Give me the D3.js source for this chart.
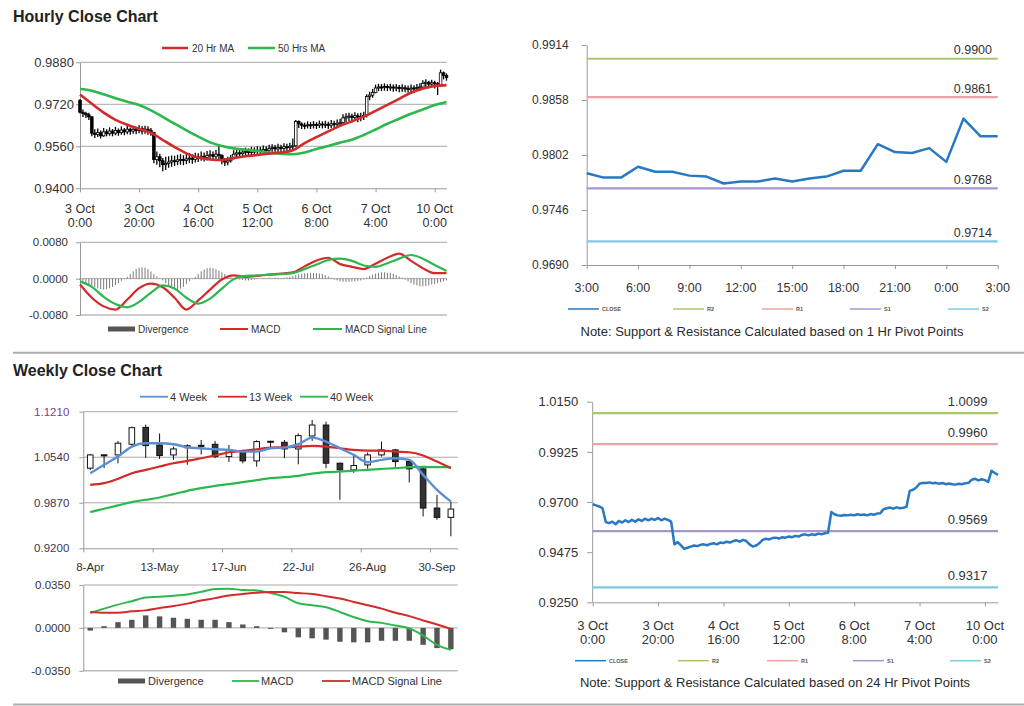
<!DOCTYPE html>
<html><head><meta charset="utf-8">
<script src="https://cdn.jsdelivr.net/npm/d3@7"></script>
<style>
body{margin:0;background:#fff;}
svg{display:block;}
</style></head><body>
<svg id="c" width="1024" height="706"></svg>
<script>
// ================= DATA =================
// Hourly candles (index = hour bar)
const hourlyFirstOpen = 0.9735;
const hourlyClose = [0.9690,0.9685,0.9680,0.9672,0.9610,
 0.9605,0.9612,0.9600,0.9615,0.9608,0.9618,0.9610,0.9620,0.9612,0.9622,
 0.9615,0.9625,0.9618,0.9625,0.9620,0.9628,0.9618,0.9625,0.9620,0.9612,
 0.9510,0.9520,0.9505,0.9490,0.9495,0.9500,0.9505,0.9502,0.9508,0.9510,
 0.9506,0.9512,0.9515,0.9510,0.9518,0.9516,0.9522,0.9518,0.9525,0.9528,
 0.9522,0.9530,0.9525,0.9510,0.9500,0.9505,0.9515,0.9530,0.9535,0.9532,
 0.9538,0.9540,0.9536,0.9542,0.9540,0.9545,0.9542,0.9548,0.9545,0.9552,
 0.9555,0.9550,0.9555,0.9552,0.9558,0.9555,0.9560,0.9562,0.9655,0.9645,
 0.9640,0.9638,0.9642,0.9640,0.9643,0.9640,0.9645,0.9642,0.9644,0.9640,
 0.9646,0.9643,0.9648,0.9650,0.9668,0.9672,0.9675,0.9670,0.9676,0.9672,
 0.9674,0.9678,0.9750,0.9755,0.9765,0.9782,0.9786,0.9785,0.9788,0.9784,
 0.9786,0.9782,0.9785,0.9780,0.9783,0.9780,0.9778,0.9782,0.9780,0.9784,
 0.9786,0.9800,0.9804,0.9797,0.9802,0.9798,0.9790,0.9840,0.9830,0.9822];
const hourlyHigh = [0.9740,0.9700,0.9692,0.9688,0.9675,
 0.9625,0.9628,0.9620,0.9630,0.9625,0.9632,0.9626,0.9634,0.9628,0.9636,
 0.9630,0.9638,0.9632,0.9637,0.9634,0.9640,0.9636,0.9638,0.9636,0.9630,
 0.9615,0.9540,0.9532,0.9515,0.9520,0.9522,0.9525,0.9524,0.9528,0.9530,
 0.9526,0.9530,0.9534,0.9530,0.9535,0.9534,0.9540,0.9536,0.9542,0.9545,
 0.9540,0.9546,0.9568,0.9530,0.9515,0.9520,0.9528,0.9545,0.9550,0.9548,
 0.9552,0.9555,0.9552,0.9558,0.9556,0.9560,0.9558,0.9563,0.9560,0.9566,
 0.9568,0.9565,0.9570,0.9566,0.9572,0.9570,0.9574,0.9590,0.9660,0.9658,
 0.9652,0.9650,0.9655,0.9652,0.9656,0.9652,0.9658,0.9655,0.9657,0.9654,
 0.9660,0.9657,0.9662,0.9665,0.9682,0.9686,0.9688,0.9684,0.9690,0.9686,
 0.9688,0.9692,0.9758,0.9768,0.9778,0.9795,0.9798,0.9797,0.9800,0.9796,
 0.9798,0.9795,0.9797,0.9794,0.9796,0.9793,0.9792,0.9795,0.9793,0.9797,
 0.9800,0.9812,0.9815,0.9810,0.9814,0.9810,0.9805,0.9852,0.9845,0.9838];
const hourlyLow = [0.9685,0.9672,0.9668,0.9660,0.9598,
 0.9592,0.9595,0.9590,0.9596,0.9598,0.9600,0.9598,0.9602,0.9600,0.9604,
 0.9602,0.9606,0.9604,0.9608,0.9606,0.9610,0.9605,0.9608,0.9604,0.9600,
 0.9495,0.9490,0.9480,0.9465,0.9470,0.9478,0.9482,0.9485,0.9488,0.9490,
 0.9488,0.9492,0.9496,0.9494,0.9498,0.9500,0.9505,0.9502,0.9506,0.9510,
 0.9506,0.9510,0.9508,0.9492,0.9485,0.9488,0.9498,0.9510,0.9518,0.9516,
 0.9520,0.9522,0.9520,0.9525,0.9524,0.9528,0.9526,0.9530,0.9530,0.9535,
 0.9538,0.9535,0.9538,0.9536,0.9540,0.9538,0.9542,0.9545,0.9558,0.9630,
 0.9626,0.9625,0.9628,0.9626,0.9628,0.9626,0.9630,0.9628,0.9630,0.9626,
 0.9630,0.9630,0.9634,0.9636,0.9645,0.9652,0.9656,0.9650,0.9656,0.9652,
 0.9655,0.9660,0.9670,0.9735,0.9745,0.9762,0.9770,0.9770,0.9772,0.9770,
 0.9772,0.9768,0.9770,0.9766,0.9768,0.9766,0.9764,0.9766,0.9766,0.9770,
 0.9772,0.9780,0.9785,0.9780,0.9784,0.9780,0.9755,0.9788,0.9815,0.9810];
// Hourly moving averages, MACD & signal sampled every 4 bars (bar 0,4,...,124)
const hourlySampleStep = 4;
const hourlyMA20 = [0.9757,0.9722,0.9688,0.9661,0.9642,0.9627,0.9612,0.9584,0.9557,0.9533,0.9517,0.9510,0.9508,0.9515,0.9522,0.9527,
 0.9532,0.9536,0.9545,0.9572,0.9595,0.9617,0.9638,0.9655,0.9673,0.9695,0.9718,0.9741,0.9764,0.9780,0.9790,0.9793];
const hourlyMA50 = [0.9778,0.9772,0.9758,0.9743,0.9730,0.9717,0.9697,0.9672,0.9646,0.9621,0.9597,0.9575,0.9561,0.9552,0.9547,0.9542,
 0.9536,0.9532,0.9530,0.9536,0.9550,0.9561,0.9574,0.9585,0.9603,0.9624,0.9646,0.9665,0.9684,0.9700,0.9717,0.9729];
const hourlyMACD = [-0.0013,-0.0042,-0.0061,-0.0068,-0.0046,-0.0021,-0.0011,-0.0019,-0.0042,-0.0068,-0.0048,-0.0024,-0.0002,0.0007,0.0004,0.0006,
 0.0009,0.0011,0.0014,0.0027,0.0040,0.0046,0.0032,0.0026,0.0021,0.0033,0.0046,0.0055,0.0039,0.0023,0.0012,0.0012];
const hourlySignal = [-0.0006,-0.0018,-0.0040,-0.0056,-0.0063,-0.0051,-0.0031,-0.0015,-0.0022,-0.0042,-0.0055,-0.0044,-0.0022,-0.0001,0.0006,0.0007,
 0.0009,0.0010,0.0012,0.0021,0.0031,0.0041,0.0044,0.0039,0.0029,0.0026,0.0034,0.0044,0.0052,0.0044,0.0030,0.0017];
// Hourly divergence, one per bar
const hourlyDivergence = [-0.0003,-0.0006,-0.0010,-0.0013,-0.0016,-0.0019,-0.0021,-0.0023,-0.0024,-0.0023,
 -0.0021,-0.0018,-0.0014,-0.0010,-0.0005,-0.0001,0.0004,0.0010,0.0016,0.0021,
 0.0024,0.0025,0.0024,0.0021,0.0016,0.0010,0.0005,0.0001,-0.0004,-0.0010,
 -0.0016,-0.0020,-0.0023,-0.0024,-0.0022,-0.0018,-0.0012,-0.0006,-0.0001,0.0004,
 0.0010,0.0016,0.0020,0.0023,0.0024,0.0023,0.0021,0.0018,0.0014,0.0010,
 0.0006,0.0003,0.0001,-0.0001,-0.0002,-0.0003,-0.0004,-0.0004,-0.0003,-0.0002,
 -0.0001,0.0000,0.0001,0.0001,0.0002,0.0001,0.0002,0.0002,0.0001,0.0002,
 0.0003,0.0004,0.0006,0.0008,0.0010,0.0011,0.0012,0.0012,0.0013,0.0012,
 0.0012,0.0011,0.0010,0.0008,0.0005,0.0002,-0.0002,-0.0004,-0.0006,-0.0007,
 -0.0007,-0.0007,-0.0006,-0.0006,-0.0005,-0.0004,-0.0002,0.0002,0.0006,0.0009,
 0.0011,0.0013,0.0014,0.0014,0.0013,0.0013,0.0011,0.0008,0.0005,0.0002,
 -0.0002,-0.0006,-0.0010,-0.0013,-0.0015,-0.0017,-0.0017,-0.0016,-0.0015,-0.0013,
 -0.0012,-0.0010,-0.0008,-0.0006,-0.0004];
const hourlyTickStep = 20;
const hourlyTickLabels = [["3 Oct","0:00"],["3 Oct","20:00"],["4 Oct","16:00"],["5 Oct","12:00"],["6 Oct","8:00"],["7 Oct","4:00"],["10 Oct","0:00"]];
const hourlyYTicks = [0.9400,0.9560,0.9720,0.9880];
const hourlyMacdTicks = [-0.0080,0.0000,0.0080];

// 1 Hr pivot chart
const pivotHours = ["3:00","4:00","5:00","6:00","7:00","8:00","9:00","10:00","11:00","12:00","13:00","14:00","15:00","16:00","17:00","18:00","19:00","20:00","21:00","22:00","23:00","0:00","1:00","2:00","3:00"];
const pivotClose = [0.97835,0.9779,0.9779,0.9790,0.9785,0.9785,0.9781,0.9780,0.9773,0.9775,0.9775,0.9778,0.9775,0.9778,0.9780,0.9786,0.9786,0.9813,0.9805,0.9804,0.9809,0.9795,0.9839,0.9821,0.9821];
const pivotLevels1h = [["R2",0.9900],["R1",0.9861],["S1",0.9768],["S2",0.9714]];
const pivotYTicks1h = [0.9690,0.9746,0.9802,0.9858,0.9914];

// 24 Hr pivot chart (uses hourly close)
const pivotLevels24h = [["R2",1.0099],["R1",0.9960],["S1",0.9569],["S2",0.9317]];
const pivotYTicks24h = [0.9250,0.9475,0.9700,0.9925,1.0150];

// Weekly
const weeks = ["8-Apr","15-Apr","22-Apr","29-Apr","6-May","13-May","20-May","27-May","3-Jun","10-Jun","17-Jun","24-Jun","1-Jul","8-Jul","15-Jul","22-Jul","29-Jul","5-Aug","12-Aug","19-Aug","26-Aug","2-Sep","9-Sep","16-Sep","23-Sep","30-Sep","7-Oct"];
const weekOpen  = [1.0379,1.0575,1.0574,1.0731,1.0980,1.0720,1.0574,1.0680,1.0715,1.0730,1.0550,1.0623,1.0486,1.0775,1.0760,1.0662,1.0853,1.1014,1.0452,1.0354,1.0427,1.0574,1.0648,1.0476,1.0369,0.9792,0.9655];
const weekHigh  = [1.0590,1.0580,1.0780,1.0990,1.1020,1.0890,1.0696,1.0730,1.0794,1.0780,1.0720,1.0650,1.0790,1.0781,1.0794,1.0890,1.1088,1.1063,1.0460,1.0574,1.0610,1.0770,1.0662,1.0500,1.0380,0.9987,0.9889];
const weekLow   = [1.0350,1.0380,1.0450,1.0700,1.0530,1.0515,1.0500,1.0430,1.0580,1.0525,1.0470,1.0450,1.0400,1.0670,1.0525,1.0436,1.0780,1.0379,0.9914,1.0310,1.0370,1.0550,1.0400,1.0168,0.9670,0.9620,0.9377];
const weekClose = [1.0574,1.0565,1.0746,1.0975,1.0711,1.0565,1.0662,1.0710,1.0710,1.0550,1.0648,1.0486,1.0770,1.0768,1.0662,1.0858,1.1014,1.0452,1.0354,1.0418,1.0574,1.0648,1.0476,1.0369,0.9792,0.9655,0.9777];
const week4  = [1.0305,1.0428,1.0550,1.0696,1.0745,1.0745,1.0731,1.0687,1.0672,1.0657,1.0648,1.0623,1.0623,1.0672,1.0682,1.0731,1.0829,1.0770,1.0672,1.0574,1.0467,1.0501,1.0525,1.0501,1.0281,1.0061,0.9890];
const week13 = [1.0134,1.0158,1.0222,1.0305,1.0354,1.0403,1.0452,1.0486,1.0525,1.0565,1.0613,1.0633,1.0657,1.0682,1.0687,1.0696,1.0706,1.0696,1.0672,1.0648,1.0638,1.0638,1.0623,1.0613,1.0565,1.0476,1.0379];
const week40 = [0.9733,0.9782,0.9831,0.9880,0.9914,0.9948,0.9997,1.0046,1.0085,1.0119,1.0144,1.0173,1.0202,1.0232,1.0246,1.0266,1.0300,1.0320,1.0330,1.0344,1.0354,1.0369,1.0379,1.0393,1.0398,1.0393,1.0393];
const weekDivergence = [-0.0022,0.0014,0.0047,0.0066,0.0102,0.0094,0.0083,0.0074,0.0066,0.0066,0.0047,0.0028,0.0014,-0.0008,-0.0036,-0.0077,-0.0085,-0.0096,-0.0113,-0.0118,-0.0118,-0.0105,-0.0105,-0.0105,-0.0138,-0.0165,-0.0174];
const weekMACD   = [0.0121,0.0157,0.0190,0.0218,0.0248,0.0254,0.0262,0.0273,0.0295,0.0317,0.0320,0.0309,0.0306,0.0284,0.0254,0.0201,0.0185,0.0168,0.0130,0.0088,0.0055,0.0041,0.0019,-0.0003,-0.0063,-0.0138,-0.0179];
const weekSignal = [0.0130,0.0124,0.0124,0.0135,0.0143,0.0163,0.0179,0.0198,0.0223,0.0243,0.0265,0.0276,0.0287,0.0292,0.0292,0.0284,0.0276,0.0259,0.0240,0.0212,0.0185,0.0157,0.0124,0.0096,0.0061,0.0028,-0.0008];
const weekTickStep = 5;
const weekYTicks = [0.9200,0.9870,1.0540,1.1210];
const weekMacdTicks = [-0.0350,0.0000,0.0350];

// ================= DRAW =================
const FONT = '"Liberation Sans", Arial, Helvetica, sans-serif';
const C = {text:'#333', axis:'#9a9a9a', grid:'#a8a8a8', red:'#d42a2a', green:'#2db84f', blue:'#2878c3', wblue:'#5b8fd3',
  R2:'#a9c86a', R1:'#eba4a4', S1:'#a698cf', S2:'#7ccbe4', div:'#555'};
const svg = d3.select('#c').attr('font-family', FONT);
const fmt4 = d => (d < -1e-9 ? '-' : '') + Math.abs(d).toFixed(4);

function leftAxis(x, scale, ticks, size, pad, fs, color){
  const g = svg.append('g').attr('transform', `translate(${x},0)`)
    .call(d3.axisLeft(scale).tickValues(ticks).tickFormat(fmt4).tickSize(size).tickSizeOuter(0).tickPadding(pad));
  g.attr('font-family', FONT).attr('font-size', fs);
  g.select('.domain').attr('stroke', C.axis);
  g.selectAll('.tick line').attr('stroke', C.axis);
  g.selectAll('.tick text').attr('fill', color || C.text);
  return g;
}
function bottomAxis(y, scale, ticks, size){
  const g = svg.append('g').attr('transform', `translate(0,${y})`)
    .call(d3.axisBottom(scale).tickValues(ticks).tickFormat('').tickSize(size).tickSizeOuter(0));
  g.select('.domain').attr('stroke', C.axis);
  g.selectAll('.tick line').attr('stroke', C.axis);
  return g;
}
function grid(scale, vals, x0, x1){
  svg.append('g').selectAll('line').data(vals).join('line')
    .attr('x1', x0).attr('x2', x1).attr('y1', d => scale(d)).attr('y2', d => scale(d))
    .attr('stroke', C.grid).attr('stroke-width', 1);
}
function text(x, y, s, fs, opts = {}){
  return svg.append('text').attr('x', x).attr('y', y).attr('font-size', fs)
    .attr('fill', opts.fill || C.text).attr('text-anchor', opts.anchor || 'start')
    .attr('font-weight', opts.weight || 'normal').text(s);
}
function legendLine(x0, x1, y, color, w){
  svg.append('line').attr('x1', x0).attr('x2', x1).attr('y1', y).attr('y2', y).attr('stroke', color).attr('stroke-width', w);
}
function twoLineLabels(data, xf, y, fs, gap){
  svg.append('g').selectAll('text').data(data).join('text')
    .attr('font-size', fs).attr('fill', C.text).attr('text-anchor', 'middle')
    .each(function(d, i){
      d3.select(this).selectAll('tspan').data(d).join('tspan')
        .attr('x', xf(i)).attr('y', (t, j) => y + j * gap).text(t => t);
    });
}

// Titles & separators
text(13, 22, 'Hourly Close Chart', 16, {weight:'bold', fill:'#222'});
text(13, 376, 'Weekly Close Chart', 16, {weight:'bold', fill:'#222'});
[352.7, 704.5].forEach(y => svg.append('line').attr('x1', 13).attr('x2', 1024).attr('y1', y).attr('y2', y).attr('stroke', '#aeaeae').attr('stroke-width', 2));

// ---------- Hourly close (top-left) ----------
const nH = hourlyClose.length;
const hIdx = d3.range(nH);
const xH = d3.scaleLinear().domain([0, nH - 1]).range([80, 446.5]);
const yH = d3.scaleLinear().domain([0.9400, 0.9880]).range([188.3, 62.3]);
grid(yH, hourlyYTicks.slice(1), 80, 447);
const hTickIdx = hourlyTickLabels.map((d, i) => i * hourlyTickStep);
bottomAxis(188.3, xH, hTickIdx, 4);
leftAxis(80, yH, hourlyYTicks, 4, 2, 13);
twoLineLabels(hourlyTickLabels, i => xH(i * hourlyTickStep), 212.5, 12.5, 14);

const hOpen = hourlyClose.map((c, i) => i ? hourlyClose[i - 1] : hourlyFirstOpen);
const gHC = svg.append('g');
gHC.selectAll('line').data(hIdx).join('line')
  .attr('x1', i => xH(i)).attr('x2', i => xH(i))
  .attr('y1', i => yH(hourlyHigh[i])).attr('y2', i => yH(hourlyLow[i]))
  .attr('stroke', '#000').attr('stroke-width', 1.3);
gHC.selectAll('rect').data(hIdx).join('rect')
  .attr('x', i => xH(i) - 1.3).attr('width', 2.6)
  .attr('y', i => yH(Math.max(hOpen[i], hourlyClose[i])))
  .attr('height', i => Math.max(1, Math.abs(yH(hOpen[i]) - yH(hourlyClose[i]))))
  .attr('fill', i => hourlyClose[i] >= hOpen[i] ? '#fff' : '#000')
  .attr('stroke', '#000').attr('stroke-width', 0.8);

const sIdx = hourlyMA20.map((d, i) => Math.min(i * hourlySampleStep, nH - 1));
const lineH = d3.line().x((d, i) => xH(sIdx[i])).y(d => yH(d)).curve(d3.curveMonotoneX);
svg.append('path').attr('d', lineH(hourlyMA50)).attr('fill', 'none').attr('stroke', C.green).attr('stroke-width', 2.6);
svg.append('path').attr('d', lineH(hourlyMA20)).attr('fill', 'none').attr('stroke', C.red).attr('stroke-width', 2.6);
legendLine(162, 188, 48, C.red, 2.5); text(192, 51.5, '20 Hr MA', 10);
legendLine(248, 275, 48, C.green, 2.5); text(278, 51.5, '50 Hrs MA', 10);

// ---------- Hourly MACD ----------
const yHM = d3.scaleLinear().domain([-0.0080, 0.0080]).range([315, 242.3]);
grid(yHM, [0.0000, 0.0080], 80, 447);
svg.append('line').attr('x1', 80).attr('x2', 447).attr('y1', 315).attr('y2', 315).attr('stroke', C.axis);
leftAxis(80, yHM, hourlyMacdTicks, 4, 8, 11.5);
svg.append('g').selectAll('line').data(hIdx).join('line')
  .attr('x1', i => xH(i)).attr('x2', i => xH(i))
  .attr('y1', yHM(0)).attr('y2', i => yHM(hourlyDivergence[i]))
  .attr('stroke', '#7a7a7a').attr('stroke-width', 1);
const lineHM = d3.line().x((d, i) => xH(sIdx[i])).y(d => yHM(d)).curve(d3.curveMonotoneX);
svg.append('path').attr('d', lineHM(hourlyMACD)).attr('fill', 'none').attr('stroke', C.red).attr('stroke-width', 2.2);
svg.append('path').attr('d', lineHM(hourlySignal)).attr('fill', 'none').attr('stroke', C.green).attr('stroke-width', 2.2);
legendLine(108, 135, 329, '#555', 5); text(138, 332.5, 'Divergence', 10);
legendLine(220, 248, 329, C.red, 2); text(251, 332.5, 'MACD', 10);
legendLine(313, 342, 329, C.green, 2); text(345, 332.5, 'MACD Signal Line', 10);

// ---------- Pivot chart helper ----------
function pivotChart(o){
  leftAxis(o.x0, o.y, o.yTicks, 5, o.pad, o.fsY);
  bottomAxis(o.yBase, o.x, o.xTicks, o.tick);
  svg.append('g').selectAll('line').data(o.levels).join('line')
    .attr('x1', o.x0).attr('x2', o.x1).attr('y1', d => o.y(d[1])).attr('y2', d => o.y(d[1]))
    .attr('stroke', d => C[d[0]]).attr('stroke-width', 2.2);
  svg.append('path').attr('d', d3.line().x((d, i) => o.x(i)).y(d => o.y(d))(o.close))
    .attr('fill', 'none').attr('stroke', C.blue).attr('stroke-width', 2.5).attr('stroke-linejoin', 'round');
  svg.append('g').selectAll('text').data(o.levels).join('text')
    .attr('x', o.labelX).attr('y', d => o.y(d[1]) - o.labelOff).attr('text-anchor', 'end')
    .attr('font-size', o.fsL).attr('fill', C.text).text(d => d[1].toFixed(4));
  // legend
  const items = [['CLOSE', C.blue]].concat(o.levels.map(d => [d[0], C[d[0]]]));
  items.forEach((d, i) => {
    const lx = o.legX[i];
    legendLine(lx, lx + 31, o.legY, d[1], 1.5);
    text(lx + 34, o.legY + 2, d[0], 5.5, {fill:'#555', weight:'bold'});
  });
  text(o.noteX, o.noteY, o.note, 13, {anchor:'middle', fill:'#2a2a2a'});
}

// ---------- 1 Hr pivot (top-right) ----------
const xP = d3.scaleLinear().domain([0, pivotHours.length - 1]).range([586.7, 997.7]);
const yP = d3.scaleLinear().domain([0.9690, 0.9914]).range([265, 45]);
const pTicks = pivotHours.map((d, i) => i).filter(i => i % 3 === 0);
pivotChart({x: xP, y: yP, x0: 586.7, x1: 997.7, yBase: 265, yTicks: pivotYTicks1h, xTicks: pTicks, tick: 4,
  pad: 13, fsY: 12, levels: pivotLevels1h, close: pivotClose, labelX: 992, labelOff: 4.3, fsL: 12.5,
  legX: [568, 673, 762, 850, 948], legY: 309, noteX: 772, noteY: 336,
  note: 'Note: Support & Resistance Calculated based on 1 Hr Pivot Points'});
svg.append('g').selectAll('text').data(pTicks).join('text')
  .attr('x', i => xP(i)).attr('y', 291.5).attr('text-anchor', 'middle').attr('font-size', 12.5).attr('fill', C.text)
  .text(i => pivotHours[i]);

// ---------- 24 Hr pivot (bottom-right) ----------
const xD = d3.scaleLinear().domain([0, nH - 1]).range([592.7, 998]);
const yD = d3.scaleLinear().domain([0.9250, 1.0150]).range([602.3, 401.7]);
pivotChart({x: xD, y: yD, x0: 592.2, x1: 998, yBase: 602.3, yTicks: pivotYTicks24h, xTicks: hTickIdx, tick: 4,
  pad: 9, fsY: 13, levels: pivotLevels24h, close: hourlyClose, labelX: 987.5, labelOff: 7.2, fsL: 13,
  legX: [575, 678, 767, 853, 950], legY: 660.7, noteX: 775, noteY: 687,
  note: 'Note: Support & Resistance Calculated based on 24 Hr Pivot Points'});
twoLineLabels(hourlyTickLabels, i => xD(i * hourlyTickStep), 629.8, 13, 14.4);

// ---------- Weekly (bottom-left) ----------
const xW = d3.scaleBand().domain(weeks).range([83.3, 457.8]);
const xWl = d3.scaleLinear().domain([0, weeks.length]).range([83.3, 457.8]);
const cW = i => xW(weeks[i]) + xW.bandwidth() / 2;
const yW = d3.scaleLinear().domain([0.9200, 1.1210]).range([548.3, 411.7]);
grid(yW, weekYTicks.slice(1), 83.3, 457.8);
const wTicks = weeks.map((d, i) => i).filter(i => i % weekTickStep === 0);
bottomAxis(548.3, xWl, wTicks, 4);
const gWy = leftAxis(83.3, yW, weekYTicks, 4, 10, 11.5, '#3d3550');
gWy.selectAll('.tick text').filter(d => d === 1.1210).attr('fill', '#7a3d98');
svg.append('g').selectAll('text').data(wTicks).join('text')
  .attr('x', i => cW(i)).attr('y', 570.8).attr('text-anchor', 'middle').attr('font-size', 11.5).attr('fill', C.text)
  .text(i => weeks[i]);
const wIdx = d3.range(weeks.length);
const gWC = svg.append('g');
gWC.selectAll('line').data(wIdx).join('line')
  .attr('x1', cW).attr('x2', cW).attr('y1', i => yW(weekHigh[i])).attr('y2', i => yW(weekLow[i]))
  .attr('stroke', '#111').attr('stroke-width', 1);
gWC.selectAll('rect').data(wIdx).join('rect')
  .attr('x', i => cW(i) - 2.8).attr('width', 5.6)
  .attr('y', i => yW(Math.max(weekOpen[i], weekClose[i])))
  .attr('height', i => Math.max(1, Math.abs(yW(weekOpen[i]) - yW(weekClose[i]))))
  .attr('fill', i => weekClose[i] >= weekOpen[i] ? '#fff' : '#333').attr('stroke', '#111').attr('stroke-width', 1);
const lineW = d3.line().x((d, i) => cW(i)).y(d => yW(d)).curve(d3.curveMonotoneX);
svg.append('path').attr('d', lineW(week40)).attr('fill', 'none').attr('stroke', C.green).attr('stroke-width', 2.2);
svg.append('path').attr('d', lineW(week13)).attr('fill', 'none').attr('stroke', C.red).attr('stroke-width', 2.2);
svg.append('path').attr('d', lineW(week4)).attr('fill', 'none').attr('stroke', C.wblue).attr('stroke-width', 2.4);
legendLine(140, 168, 396.7, C.wblue, 1.8); text(170, 400.5, '4 Week', 11);
legendLine(218, 247, 396.7, C.red, 1.8); text(249, 400.5, '13 Week', 11);
legendLine(300, 328, 396.7, C.green, 1.8); text(330, 400.5, '40 Week', 11);

// ---------- Weekly MACD ----------
const yWM = d3.scaleLinear().domain([-0.0350, 0.0350]).range([670.8, 585]);
grid(yWM, [0.0000, 0.0350], 83.3, 457.8);
svg.append('line').attr('x1', 83.3).attr('x2', 457.8).attr('y1', 670.8).attr('y2', 670.8).attr('stroke', C.axis);
leftAxis(83.3, yWM, weekMacdTicks, 4, 9, 11.5);
svg.append('g').selectAll('rect').data(wIdx).join('rect')
  .attr('x', i => cW(i) - 2.7).attr('width', 5.4)
  .attr('y', i => Math.min(yWM(0), yWM(weekDivergence[i])))
  .attr('height', i => Math.abs(yWM(weekDivergence[i]) - yWM(0)))
  .attr('fill', C.div);
const lineWM = d3.line().x((d, i) => cW(i)).y(d => yWM(d)).curve(d3.curveMonotoneX);
svg.append('path').attr('d', lineWM(weekMACD)).attr('fill', 'none').attr('stroke', C.green).attr('stroke-width', 2);
svg.append('path').attr('d', lineWM(weekSignal)).attr('fill', 'none').attr('stroke', C.red).attr('stroke-width', 2);
legendLine(118, 145, 681, C.div, 5); text(148, 685, 'Divergence', 11);
legendLine(232, 259, 681, C.green, 1.8); text(261, 685, 'MACD', 11);
legendLine(322, 350, 681, C.red, 1.8); text(352, 685, 'MACD Signal Line', 11);
</script>
</body></html>
